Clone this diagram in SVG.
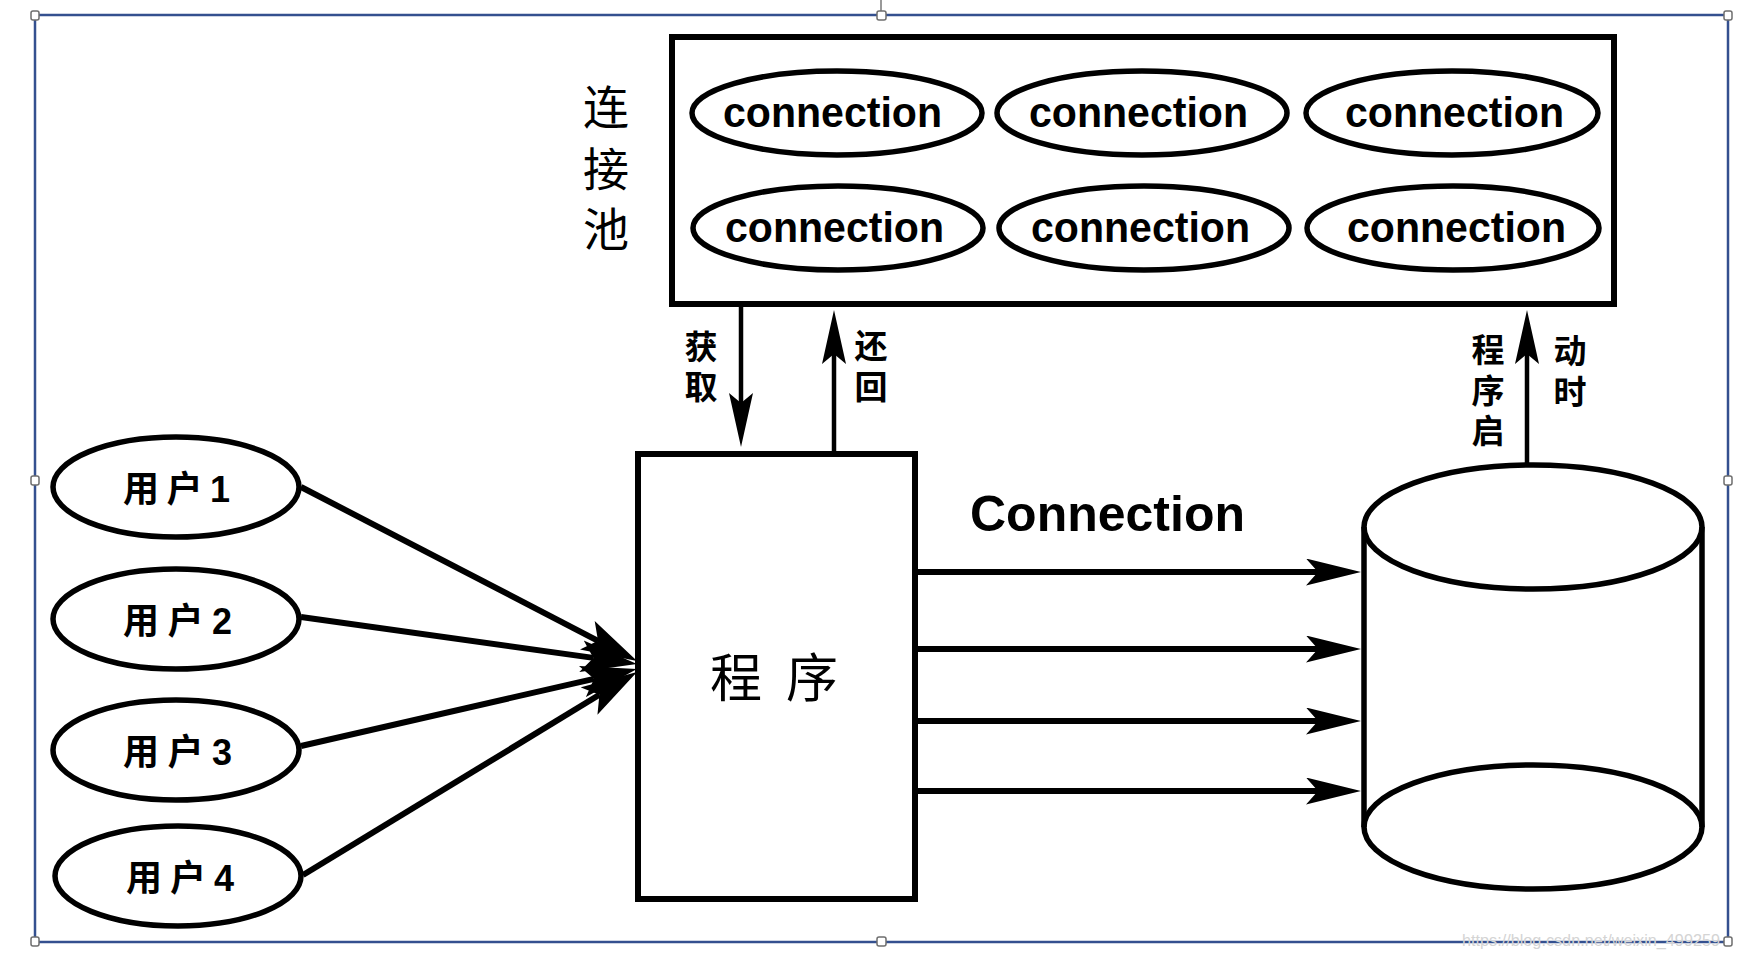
<svg xmlns="http://www.w3.org/2000/svg" width="1744" height="959" viewBox="0 0 1744 959">
<style>
  .frame{fill:none;stroke:#34508f;stroke-width:2.5}
  .handle{fill:#ffffff;stroke:#6e6e6e;stroke-width:1.5}
  .box{fill:none;stroke:#000;stroke-width:6}
  .ell{fill:none;stroke:#000;stroke-width:5.5}
  .conn{font-family:"Liberation Sans",Arial,sans-serif;font-weight:bold;font-size:43px;fill:#000}
  .cjk{font-family:"Liberation Sans","Noto Sans CJK SC",sans-serif;fill:#000}
  .user{font-size:36px;font-weight:bold}
  .lab{font-size:33px;font-weight:bold;text-anchor:middle}
  .big{font-size:46px;text-anchor:middle}
  .edge{fill:none;stroke:#000;stroke-width:6}
  .vedge{fill:none;stroke:#000;stroke-width:4.5}
</style>
<defs>
  <marker id="ahH" viewBox="0 0 55 27" refX="12" refY="13.5" markerWidth="55" markerHeight="27" markerUnits="userSpaceOnUse" orient="auto">
    <path d="M0,0 L55,13.5 L0,27 L12,13.5 Z" fill="#000"/>
  </marker>
  <marker id="ahU" viewBox="0 0 56 32" refX="12" refY="16" markerWidth="56" markerHeight="32" markerUnits="userSpaceOnUse" orient="auto">
    <path d="M0,0 L56,16 L0,32 L12,16 Z" fill="#000"/>
  </marker>
  <marker id="ahV" viewBox="0 0 54 24" refX="10" refY="12" markerWidth="54" markerHeight="24" markerUnits="userSpaceOnUse" orient="auto">
    <path d="M0,0 L54,12 L0,24 L10,12 Z" fill="#000"/>
  </marker>
</defs>
<rect width="1744" height="959" fill="#ffffff"/>

<g id="selection-frame">
  <line x1="881" y1="0" x2="881" y2="11" stroke="#777" stroke-width="1.5"/>
  <rect class="frame" x="35" y="15" width="1693" height="927"/>
  <rect class="handle" x="31" y="11" width="8" height="9" rx="2"/>
  <rect class="handle" x="877" y="11" width="9" height="9" rx="2"/>
  <rect class="handle" x="1724" y="11" width="8" height="9" rx="2"/>
  <rect class="handle" x="31" y="476" width="8" height="9" rx="2"/>
  <rect class="handle" x="1724" y="476" width="8" height="9" rx="2"/>
  <rect class="handle" x="31" y="937" width="8" height="9" rx="2"/>
  <rect class="handle" x="877" y="937" width="9" height="9" rx="2"/>
  <rect class="handle" x="1724" y="937" width="8" height="9" rx="2"/>
</g>

<g id="pool">
  <rect class="box" x="672" y="37" width="942" height="267"/>
  <text class="cjk big" x="606" y="124">连</text>
  <text class="cjk big" x="606" y="186">接</text>
  <text class="cjk big" x="606" y="246">池</text>
</g>
<g id="conn-1-1"><ellipse class="ell" cx="837" cy="113" rx="145" ry="42"/><text class="conn" x="723" y="127" textLength="219" lengthAdjust="spacingAndGlyphs">connection</text></g>
<g id="conn-1-2"><ellipse class="ell" cx="1142" cy="113" rx="145" ry="42"/><text class="conn" x="1029" y="127" textLength="219" lengthAdjust="spacingAndGlyphs">connection</text></g>
<g id="conn-1-3"><ellipse class="ell" cx="1452" cy="113" rx="146" ry="42"/><text class="conn" x="1345" y="127" textLength="219" lengthAdjust="spacingAndGlyphs">connection</text></g>
<g id="conn-2-1"><ellipse class="ell" cx="838" cy="228" rx="145" ry="42"/><text class="conn" x="725" y="242" textLength="219" lengthAdjust="spacingAndGlyphs">connection</text></g>
<g id="conn-2-2"><ellipse class="ell" cx="1144" cy="228" rx="145" ry="42"/><text class="conn" x="1031" y="242" textLength="219" lengthAdjust="spacingAndGlyphs">connection</text></g>
<g id="conn-2-3"><ellipse class="ell" cx="1453" cy="228" rx="146" ry="42"/><text class="conn" x="1347" y="242" textLength="219" lengthAdjust="spacingAndGlyphs">connection</text></g>

<g id="program">
  <rect class="box" x="638" y="454" width="277" height="445"/>
  <text class="cjk" font-size="52" text-anchor="middle" x="736" y="697">程</text>
  <text class="cjk" font-size="52" text-anchor="middle" x="812" y="697">序</text>
</g>

<g id="user1"><ellipse class="ell" cx="176" cy="487" rx="123" ry="50"/><text class="cjk user" x="123" y="502" textLength="107" lengthAdjust="spacing">用户1</text></g>
<g id="user2"><ellipse class="ell" cx="176" cy="619" rx="123" ry="50"/><text class="cjk user" x="123" y="634" textLength="109" lengthAdjust="spacing">用户2</text></g>
<g id="user3"><ellipse class="ell" cx="176" cy="750" rx="123" ry="50"/><text class="cjk user" x="123" y="765" textLength="109" lengthAdjust="spacing">用户3</text></g>
<g id="user4"><ellipse class="ell" cx="178" cy="876" rx="123" ry="50"/><text class="cjk user" x="126" y="891" textLength="108" lengthAdjust="spacing">用户4</text></g>

<g id="database">
  <line class="ell" x1="1364" y1="527" x2="1364" y2="827"/>
  <line class="ell" x1="1702" y1="527" x2="1702" y2="827"/>
  <ellipse class="ell" cx="1533" cy="527" rx="169" ry="62"/>
  <ellipse class="ell" cx="1533" cy="827" rx="169" ry="62"/>
</g>

<g id="connectors">
  <line class="edge" x1="301" y1="487" x2="598" y2="640.8" marker-end="url(#ahU)"/>
  <line class="edge" x1="301" y1="617" x2="593.4" y2="657.9" marker-end="url(#ahU)"/>
  <line class="edge" x1="301" y1="746" x2="594" y2="678.8" marker-end="url(#ahU)"/>
  <line class="edge" x1="303" y1="875" x2="599.4" y2="694.8" marker-end="url(#ahU)"/>

  <line class="edge" x1="915" y1="572" x2="1318" y2="572" marker-end="url(#ahH)"/>
  <line class="edge" x1="915" y1="649" x2="1318" y2="649" marker-end="url(#ahH)"/>
  <line class="edge" x1="915" y1="721" x2="1318" y2="721" marker-end="url(#ahH)"/>
  <line class="edge" x1="915" y1="791" x2="1318" y2="791" marker-end="url(#ahH)"/>

  <line class="vedge" x1="741" y1="306" x2="741" y2="403" marker-end="url(#ahV)"/>
  <line class="vedge" x1="834" y1="452" x2="834" y2="354" marker-end="url(#ahV)"/>
  <line class="vedge" x1="1527" y1="465" x2="1527" y2="354" marker-end="url(#ahV)"/>

  <text class="cjk lab" x="701" y="359">获</text>
  <text class="cjk lab" x="701" y="399">取</text>
  <text class="cjk lab" x="871" y="358">还</text>
  <text class="cjk lab" x="871" y="399">回</text>
  <text class="cjk lab" x="1488" y="362">程</text>
  <text class="cjk lab" x="1488" y="403">序</text>
  <text class="cjk lab" x="1488" y="443">启</text>
  <text class="cjk lab" x="1570" y="363">动</text>
  <text class="cjk lab" x="1570" y="404">时</text>
  <text x="970" y="531" font-family="'Liberation Sans',Arial,sans-serif" font-weight="bold" font-size="50" fill="#000">Connection</text>
</g>

<text x="1462" y="946" font-family="'Liberation Sans',Arial,sans-serif" font-size="17" fill="#d4d4d4" textLength="258" lengthAdjust="spacingAndGlyphs">https://blog.csdn.net/weixin_499259</text>
</svg>
